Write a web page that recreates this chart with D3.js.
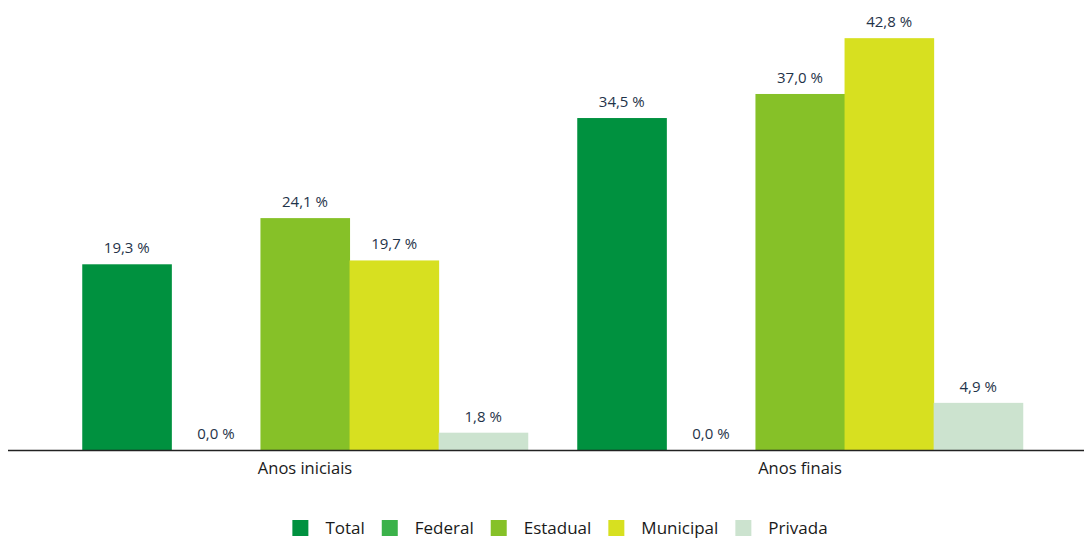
<!DOCTYPE html>
<html>
<head>
<meta charset="utf-8">
<script src="https://cdn.jsdelivr.net/npm/d3@7"></script>
<style>
  body { margin: 0; background: #fff; }
  text { font-family: "Open Sans", sans-serif; }
</style>
</head>
<body>
<div id="chart"></div>
<script>
// data
const categories = ['Anos iniciais', 'Anos finais'];
const series = ['Total', 'Federal', 'Estadual', 'Municipal', 'Privada'];
const colors = ['#00913f', '#3bb24a', '#86c128', '#d7e020', '#cce3cf'];
const values = [
  [19.3, 0.0, 24.1, 19.7, 1.8],   // Anos iniciais
  [34.5, 0.0, 37.0, 42.8, 4.9]    // Anos finais
];

let width = 1084,
  height = 540;

let baseline = 450;

let svg = d3.select('#chart')
  .append('svg')
  .attr('width', width)
  .attr('height', height);

// scales
let x0 = d3.scaleBand()
  .domain(categories)
  .range([57.5, 1047.5])
  .paddingInner(0.1)
  .paddingOuter(0.05);

let x1 = d3.scaleBand()
  .domain(series)
  .range([0, x0.bandwidth()]);

let yScale = d3.scaleLinear()
  .domain([0, 45])
  .range([baseline, 17]);

let color = d3.scaleOrdinal().domain(series).range(colors);

let fmt = function(v) {
  return v.toFixed(1).replace('.', ',') + ' %';
};

let rows = [];
categories.forEach(function(c, i) {
  series.forEach(function(s, j) {
    rows.push({ cat: c, ser: s, value: values[i][j] });
  });
});

// bars
svg.append('g')
  .selectAll('rect')
  .data(rows)
  .enter()
  .append('rect')
    .attr('x', d => x0(d.cat) + x1(d.ser))
    .attr('y', d => yScale(d.value))
    .attr('width', x1.bandwidth() + 0.5)
    .attr('height', d => baseline - yScale(d.value))
    .attr('fill', d => color(d.ser));

// value labels
svg.append('g')
  .selectAll('text')
  .data(rows)
  .enter()
  .append('text')
    .attr('x', d => x0(d.cat) + x1(d.ser) + x1.bandwidth() / 2)
    .attr('y', d => yScale(d.value) - 11)
    .attr('text-anchor', 'middle')
    .style('font-size', '15px')
    .style('fill', '#1f3349')
    .text(d => fmt(d.value));

// x axis
let xAxis = svg.append('g')
  .attr('transform', `translate(0,${baseline})`)
  .call(d3.axisBottom(x0).tickSize(0).tickPadding(12));

xAxis.select('.domain').remove();
xAxis.selectAll('text')
  .style('font-size', '16.5px')
  .style('font-family', '"Open Sans", sans-serif')
  .style('fill', '#1a1a1a');

svg.append('line')
  .attr('x1', 8)
  .attr('x2', width)
  .attr('y1', baseline + 0.5)
  .attr('y2', baseline + 0.5)
  .attr('stroke', '#222')
  .attr('stroke-width', 1.5);

// legend
let legend = svg.append('g');
let xPos = 0;
series.forEach(function(s) {
  let item = legend.append('g').attr('transform', `translate(${xPos},0)`);
  item.append('rect')
    .attr('x', 0)
    .attr('y', 520)
    .attr('width', 16)
    .attr('height', 16)
    .attr('fill', color(s));
  let t = item.append('text')
    .attr('x', 33)
    .attr('y', 534)
    .style('font-size', '17px')
    .style('fill', '#1a1a1a')
    .text(s);
  xPos += 33 + t.node().getComputedTextLength() + 17;
});
let legendWidth = xPos - 17;
legend.attr('transform', `translate(${560 - legendWidth / 2},0)`);
</script>
</body>
</html>
